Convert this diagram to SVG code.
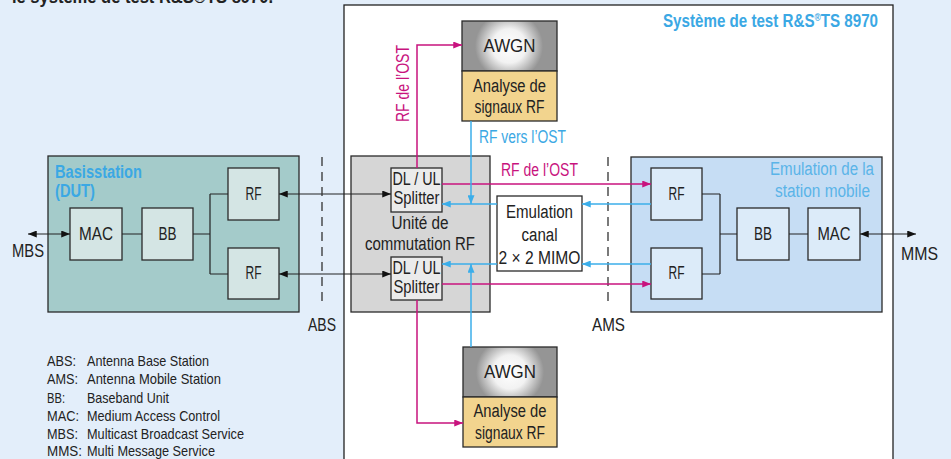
<svg xmlns="http://www.w3.org/2000/svg" width="951" height="459" viewBox="0 0 951 459">
<style>
text{font-family:"Liberation Sans Narrow","Liberation Sans",Arial,sans-serif;fill:#222;font-size:18px}
.c{text-anchor:middle}
.r{text-anchor:end}
.b{font-weight:bold}
.box{stroke:#2a2a2a;stroke-width:1.3}
.ln{fill:none;stroke:#222;stroke-width:1.2}
.mg{fill:none;stroke:#C8137E;stroke-width:1.5}
.bl{fill:none;stroke:#3BAEEA;stroke-width:1.5}
.dash{fill:none;stroke:#333;stroke-width:1.3;stroke-dasharray:9 6}
.leg{font-size:15px}
.mgt{fill:#C8137E}
.blt{fill:#3BA8E4}
.lbt{fill:#5AB4E8}
</style>
<defs>
<marker id="ak" viewBox="0 0 10 8" refX="10" refY="4" markerWidth="10" markerHeight="7" markerUnits="userSpaceOnUse" orient="auto-start-reverse"><path d="M0,0L10,4L0,8z" fill="#111"/></marker>
<marker id="am" viewBox="0 0 10 8" refX="10" refY="4" markerWidth="10" markerHeight="7" markerUnits="userSpaceOnUse" orient="auto"><path d="M0,0L10,4L0,8z" fill="#C8137E"/></marker>
<marker id="ab" viewBox="0 0 10 8" refX="10" refY="4" markerWidth="10" markerHeight="7" markerUnits="userSpaceOnUse" orient="auto"><path d="M0,0L10,4L0,8z" fill="#3BAEEA"/></marker>
<radialGradient id="g1" gradientUnits="userSpaceOnUse" cx="509" cy="46" r="34"><stop offset="0" stop-color="#fff"/><stop offset="0.5" stop-color="#f2f2f2"/><stop offset="1" stop-color="#959595"/></radialGradient>
<radialGradient id="g2" gradientUnits="userSpaceOnUse" cx="510" cy="372" r="34"><stop offset="0" stop-color="#fff"/><stop offset="0.5" stop-color="#f2f2f2"/><stop offset="1" stop-color="#959595"/></radialGradient>
</defs>
<rect x="0" y="0" width="951" height="459" fill="#E3EEFA"/>
<text x="12" y="2.5" class="b" font-size="17" fill="#111" textLength="261" lengthAdjust="spacingAndGlyphs">le système de test R&amp;S®TS 8970.</text>

<g id="test-system">
<rect x="344" y="5" width="549" height="470" fill="#fff" stroke="#222" stroke-width="1.3"/>
<text x="663" y="27" class="b blt" font-size="17" textLength="215" lengthAdjust="spacingAndGlyphs">Système de test R&amp;S<tspan font-size="10" dy="-6">®</tspan><tspan dy="6">TS 8970</tspan></text>
</g>

<g id="basestation">
<rect x="48" y="156" width="251" height="156" fill="#A4CBCA" class="box"/>
<text x="55" y="178" class="b blt" textLength="87" lengthAdjust="spacingAndGlyphs">Basisstation</text>
<text x="55" y="197" class="b blt" textLength="40" lengthAdjust="spacingAndGlyphs">(DUT)</text>
</g>
<g id="bs-mac"><rect x="70" y="208" width="52" height="52" fill="#D4E5E4" class="box"/><text x="96" y="240" class="c" textLength="34" lengthAdjust="spacingAndGlyphs">MAC</text></g>
<g id="bs-bb"><rect x="142" y="208" width="51" height="52" fill="#D4E5E4" class="box"/><text x="167.5" y="240" class="c" textLength="18" lengthAdjust="spacingAndGlyphs">BB</text></g>
<g id="bs-rf1"><rect x="228" y="168" width="51" height="52" fill="#D4E5E4" class="box"/><text x="253.5" y="200" class="c" textLength="16" lengthAdjust="spacingAndGlyphs">RF</text></g>
<g id="bs-rf2"><rect x="228" y="248" width="51" height="51" fill="#D4E5E4" class="box"/><text x="253.5" y="279" class="c" textLength="16" lengthAdjust="spacingAndGlyphs">RF</text></g>

<g id="switch">
<rect x="351" y="156" width="139" height="156" fill="#D6D6D6" class="box"/>
<text x="420" y="229" class="c" textLength="57" lengthAdjust="spacingAndGlyphs">Unité de</text>
<text x="420" y="250" class="c" textLength="110" lengthAdjust="spacingAndGlyphs">commutation RF</text>
</g>
<g id="splitter1"><rect x="391" y="168" width="51" height="44" fill="#EBEBEB" class="box"/><text x="416.5" y="185" class="c" font-size="17" textLength="48" lengthAdjust="spacingAndGlyphs">DL / UL</text><text x="416.5" y="204" class="c" font-size="17" textLength="46" lengthAdjust="spacingAndGlyphs">Splitter</text></g>
<g id="splitter2"><rect x="391" y="257" width="51" height="43" fill="#EBEBEB" class="box"/><text x="416.5" y="274" class="c" font-size="17" textLength="48" lengthAdjust="spacingAndGlyphs">DL / UL</text><text x="416.5" y="293" class="c" font-size="17" textLength="46" lengthAdjust="spacingAndGlyphs">Splitter</text></g>

<g id="channel"><rect x="497" y="196" width="85" height="75" fill="#fff" class="box"/>
<text x="539.5" y="218" class="c" textLength="67" lengthAdjust="spacingAndGlyphs">Emulation</text><text x="539.5" y="241" class="c" textLength="36" lengthAdjust="spacingAndGlyphs">canal</text><text x="539.5" y="264" class="c" textLength="82" lengthAdjust="spacingAndGlyphs">2 × 2 MIMO</text></g>

<g id="mobile">
<rect x="631" y="157" width="251" height="155" fill="#C6DDF4" class="box"/>
<text x="770" y="175" class="lbt" textLength="104" lengthAdjust="spacingAndGlyphs">Emulation de la</text>
<text x="775" y="197" class="lbt" textLength="95" lengthAdjust="spacingAndGlyphs">station mobile</text>
</g>
<g id="ms-rf1"><rect x="651" y="168" width="51" height="52" fill="#DCEBF9" class="box"/><text x="676.5" y="200" class="c" textLength="16" lengthAdjust="spacingAndGlyphs">RF</text></g>
<g id="ms-rf2"><rect x="651" y="248" width="51" height="51" fill="#DCEBF9" class="box"/><text x="676.5" y="279" class="c" textLength="16" lengthAdjust="spacingAndGlyphs">RF</text></g>
<g id="ms-bb"><rect x="737" y="208" width="52" height="52" fill="#DCEBF9" class="box"/><text x="763" y="240" class="c" textLength="18" lengthAdjust="spacingAndGlyphs">BB</text></g>
<g id="ms-mac"><rect x="808" y="208" width="52" height="52" fill="#DCEBF9" class="box"/><text x="834" y="240" class="c" textLength="33" lengthAdjust="spacingAndGlyphs">MAC</text></g>

<g id="awgn-top">
<rect x="462" y="21" width="95" height="50" fill="url(#g1)" class="box"/>
<rect x="462" y="71" width="95" height="50" fill="#F2D48E" class="box"/>
<text x="509.5" y="52" class="c" textLength="52" lengthAdjust="spacingAndGlyphs">AWGN</text>
<text x="509.5" y="92" class="c" textLength="73" lengthAdjust="spacingAndGlyphs">Analyse de</text>
<text x="509.5" y="113" class="c" textLength="70" lengthAdjust="spacingAndGlyphs">signaux RF</text>
</g>
<g id="awgn-bottom">
<rect x="463" y="347" width="94" height="50" fill="url(#g2)" class="box"/>
<rect x="463" y="397" width="94" height="50" fill="#F2D48E" class="box"/>
<text x="510" y="378" class="c" textLength="52" lengthAdjust="spacingAndGlyphs">AWGN</text>
<text x="510" y="417" class="c" textLength="73" lengthAdjust="spacingAndGlyphs">Analyse de</text>
<text x="510" y="439" class="c" textLength="70" lengthAdjust="spacingAndGlyphs">signaux RF</text>
</g>

<g id="connectors">
<path class="ln" d="M122,234H142M193,234H210M210,194V274M210,194H228M210,274H228"/>
<path class="ln" d="M702,194H720M702,274H720M720,194V274M720,234H737M789,234H808"/>
<path class="ln" d="M28,234H70" marker-start="url(#ak)" marker-end="url(#ak)"/>
<path class="ln" d="M860,234H916" marker-start="url(#ak)" marker-end="url(#ak)"/>
<path class="ln" d="M279,194H391" marker-start="url(#ak)" marker-end="url(#ak)"/>
<path class="ln" d="M279,274H391" marker-start="url(#ak)" marker-end="url(#ak)"/>
<path class="dash" d="M322,157V305"/>
<path class="dash" d="M608,157V305"/>
<path class="mg" d="M442,184H651" marker-end="url(#am)"/>
<path class="mg" d="M442,284H651" marker-end="url(#am)"/>
<path class="mg" d="M417,168V45H462" marker-end="url(#am)"/>
<path class="mg" d="M417,300V423H463" marker-end="url(#am)"/>
<path class="bl" d="M651,204H582" marker-end="url(#ab)"/>
<path class="bl" d="M497,204H442" marker-end="url(#ab)"/>
<path class="bl" d="M651,264H582" marker-end="url(#ab)"/>
<path class="bl" d="M497,264H442" marker-end="url(#ab)"/>
<path class="bl" d="M471,121V204" marker-end="url(#ab)"/>
<path class="bl" d="M471,347V264" marker-end="url(#ab)"/>
</g>

<g id="labels">
<text x="12" y="257" textLength="32" lengthAdjust="spacingAndGlyphs">MBS</text>
<text x="901" y="260" textLength="37" lengthAdjust="spacingAndGlyphs">MMS</text>
<text x="308" y="331" textLength="28" lengthAdjust="spacingAndGlyphs">ABS</text>
<text x="592" y="331" textLength="33" lengthAdjust="spacingAndGlyphs">AMS</text>
<text x="501" y="176" class="mgt" textLength="77" lengthAdjust="spacingAndGlyphs">RF de l’OST</text>
<text x="479" y="143" class="blt" textLength="87" lengthAdjust="spacingAndGlyphs">RF vers l’OST</text>
<text transform="translate(409,122) rotate(-90)" class="mgt" textLength="77" lengthAdjust="spacingAndGlyphs">RF de l’OST</text>
</g>

<g id="legend">
<text x="47" y="366" class="leg" textLength="29" lengthAdjust="spacingAndGlyphs">ABS:</text><text x="87" y="366" class="leg" textLength="122" lengthAdjust="spacingAndGlyphs">Antenna Base Station</text>
<text x="47" y="384" class="leg" textLength="31" lengthAdjust="spacingAndGlyphs">AMS:</text><text x="87" y="384" class="leg" textLength="134" lengthAdjust="spacingAndGlyphs">Antenna Mobile Station</text>
<text x="47" y="403" class="leg" textLength="18" lengthAdjust="spacingAndGlyphs">BB:</text><text x="87" y="403" class="leg" textLength="82" lengthAdjust="spacingAndGlyphs">Baseband Unit</text>
<text x="47" y="421" class="leg" textLength="32" lengthAdjust="spacingAndGlyphs">MAC:</text><text x="87" y="421" class="leg" textLength="133" lengthAdjust="spacingAndGlyphs">Medium Access Control</text>
<text x="47" y="439" class="leg" textLength="31" lengthAdjust="spacingAndGlyphs">MBS:</text><text x="87" y="439" class="leg" textLength="157" lengthAdjust="spacingAndGlyphs">Multicast Broadcast Service</text>
<text x="47" y="456" class="leg" textLength="35" lengthAdjust="spacingAndGlyphs">MMS:</text><text x="87" y="456" class="leg" textLength="128" lengthAdjust="spacingAndGlyphs">Multi Message Service</text>
</g>
</svg>
